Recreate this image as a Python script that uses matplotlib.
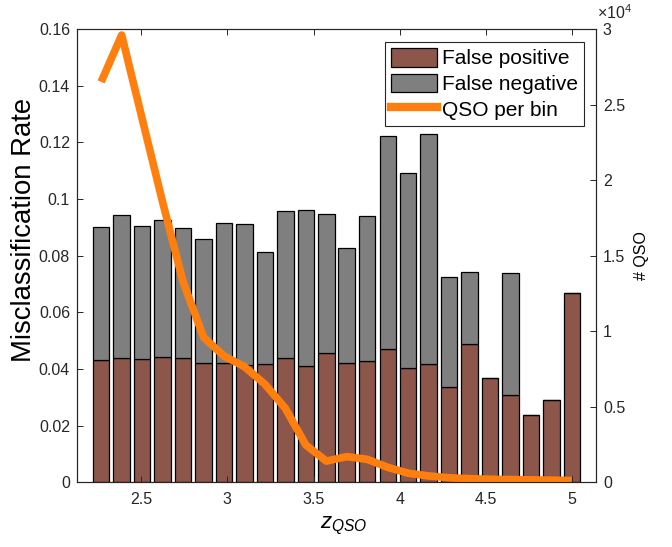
import matplotlib
matplotlib.use('Agg')
import matplotlib.pyplot as plt
from matplotlib.patches import Patch
from matplotlib.lines import Line2D

# ---------------- data ----------------
z_centers = [2.268, 2.387, 2.505, 2.624, 2.743, 2.862, 2.980, 3.099, 3.218, 3.336,
             3.455, 3.574, 3.692, 3.811, 3.930, 4.049, 4.167, 4.286, 4.405, 4.523,
             4.642, 4.761, 4.879, 4.998]
false_positive = [0.0432, 0.0438, 0.0434, 0.0441, 0.0438, 0.0422, 0.0420, 0.0414,
                  0.0418, 0.0438, 0.0410, 0.0455, 0.0422, 0.0429, 0.0470, 0.0402,
                  0.0418, 0.0335, 0.0487, 0.0367, 0.0308, 0.0239, 0.0290, 0.0669]
false_negative = [0.0470, 0.0505, 0.0472, 0.0485, 0.0461, 0.0436, 0.0494, 0.0498,
                  0.0394, 0.0520, 0.0551, 0.0492, 0.0404, 0.0511, 0.0753, 0.0690,
                  0.0810, 0.0391, 0.0256, 0.0000, 0.0430, 0.0000, 0.0000, 0.0000]
qso_per_bin = [26500, 29600, 24100, 18560, 13270, 9600, 8360, 7650, 6490, 4900,
               2470, 1400, 1700, 1520, 990, 600, 420, 300, 240, 200,
               180, 160, 140, 120]

x_ticks = [2.5, 3, 3.5, 4, 4.5, 5]
x_ticklabels = ['2.5', '3', '3.5', '4', '4.5', '5']
left_ticks = [0, 0.02, 0.04, 0.06, 0.08, 0.10, 0.12, 0.14, 0.16]
left_ticklabels = ['0', '0.02', '0.04', '0.06', '0.08', '0.1', '0.12', '0.14', '0.16']
right_ticks = [0, 5000, 10000, 15000, 20000, 25000, 30000]
right_ticklabels = ['0', '0.5', '1', '1.5', '2', '2.5', '3']

labels = ['False positive', 'False negative', 'QSO per bin']

# ---------------- style ----------------
plt.rcParams['font.family'] = ['Liberation Sans', 'DejaVu Sans']
plt.rcParams['mathtext.fontset'] = 'custom'
plt.rcParams['mathtext.rm'] = 'Liberation Sans'
plt.rcParams['mathtext.it'] = 'Liberation Sans:italic'
plt.rcParams['mathtext.bf'] = 'Liberation Sans:bold'

brown = '#8c564b'
gray = '#7f7f7f'
orange = '#ff7f0e'
axcol = '#262626'

fig = plt.figure(figsize=(6.72, 5.47), dpi=100)
ax = fig.add_axes([0.1146, 0.1183, 0.7723, 0.8287])
ax2 = ax.twinx()

step = z_centers[1] - z_centers[0]
width = 0.8 * step
ax.bar(z_centers, false_positive, width, color=brown, edgecolor='black', linewidth=0.9)
ax.bar(z_centers, false_negative, width, bottom=false_positive, color=gray,
       edgecolor='black', linewidth=0.9)

ax2.plot(z_centers, qso_per_bin, color=orange, linewidth=5.5,
         solid_capstyle='butt', solid_joinstyle='round')

ax.set_xlim(z_centers[0] - 0.14, z_centers[-1] + 0.14)
ax.set_ylim(0, 0.16)
ax2.set_ylim(0, 30000)

ax.set_xticks(x_ticks)
ax.set_xticklabels(x_ticklabels)
ax.set_yticks(left_ticks)
ax.set_yticklabels(left_ticklabels)
ax2.set_yticks(right_ticks)
ax2.set_yticklabels(right_ticklabels)

ax.tick_params(axis='x', direction='in', top=True, bottom=True, length=4, width=0.7,
               colors=axcol, labelsize=11.5, pad=7)
ax.tick_params(axis='y', direction='in', left=True, right=False, length=4, width=0.7,
               colors=axcol, labelsize=11.5, pad=5)
ax2.tick_params(axis='y', direction='in', right=True, length=4, width=0.7,
                colors=axcol, labelsize=11.5, pad=5)

for a in (ax, ax2):
    for s in a.spines.values():
        s.set_color(axcol)
        s.set_linewidth(0.8)

ax.set_ylabel('Misclassification Rate', fontsize=19.8, color='black', labelpad=6)
ax.yaxis.set_label_coords(-0.078, 0.557)
ax2.set_ylabel('# QSO', fontsize=11.5, color='black', labelpad=6)
ax.set_xlabel(r'$z_{QSO}$', fontsize=16, color='black')
ax.xaxis.set_label_coords(0.514, -0.073)

ax2.annotate('×10$^{4}$', xy=(1, 1), xycoords='axes fraction', xytext=(1, 5),
             textcoords='offset points', ha='left', va='bottom', fontsize=11.5,
             color=axcol)

handles = [Patch(facecolor=brown, edgecolor='black', linewidth=0.9),
           Patch(facecolor=gray, edgecolor='black', linewidth=0.9),
           Line2D([], [], color=orange, linewidth=6)]
leg = ax2.legend(handles, labels, loc='upper right', bbox_to_anchor=(0.977, 0.972),
                 borderaxespad=0, fontsize=15, frameon=True, fancybox=False,
                 edgecolor=axcol, framealpha=1, handlelength=2.2, handleheight=1.0,
                 handletextpad=0.25, labelspacing=0.25, borderpad=0.3)
leg.get_frame().set_linewidth(0.8)

fig.savefig('out.png', dpi=100)
